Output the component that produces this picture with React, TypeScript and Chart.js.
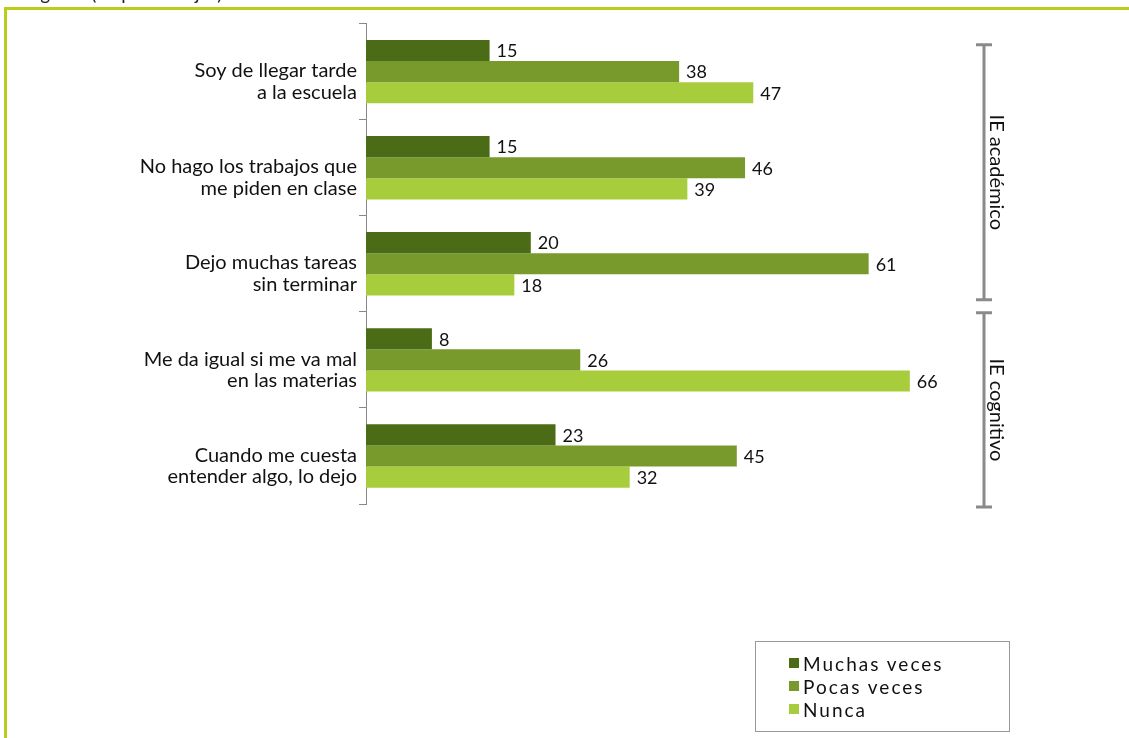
import React, { useEffect, useRef } from "react";
import { Chart, registerables } from "chart.js";

Chart.register(...registerables);

const categories: string[][] = [
  ["Soy de llegar tarde", "a la escuela"],
  ["No hago los trabajos que", "me piden en clase"],
  ["Dejo muchas tareas", "sin terminar"],
  ["Me da igual si me va mal", "en las materias"],
  ["Cuando me cuesta", "entender algo, lo dejo"],
];
const seriesNames = ["Muchas veces", "Pocas veces", "Nunca"];
const muchasVeces = [15, 15, 20, 8, 23];
const pocasVeces = [38, 46, 61, 26, 45];
const nunca = [47, 39, 18, 66, 32];
const seriesColors = ["#4c6b17", "#789a2c", "#a7cd3c"];
const groupLabels = ["IE académico", "IE cognitivo"];
const titleText = "Imagen 5 (en porcentajes)";

const FONT = "Lato, 'Open Sans', sans-serif";

const decorPlugin = {
  id: "decor",
  beforeDraw(chart: any) {
    const ctx = chart.ctx;
    ctx.save();
    ctx.fillStyle = "#b9cd1a";
    ctx.fillRect(4, 7, chart.width - 4, 3);
    ctx.fillRect(4, 7, 3, chart.height - 7);
    ctx.fillStyle = "#222";
    ctx.font = `19px ${FONT}`;
    ctx.textBaseline = "alphabetic";
    ctx.textAlign = "left";
    ctx.fillText(titleText, 10, 0);
    ctx.restore();
  },
  afterDatasetsDraw(chart: any) {
    const ctx = chart.ctx;
    ctx.save();
    ctx.font = `18px ${FONT}`;
    ctx.fillStyle = "#111";
    ctx.textBaseline = "middle";
    ctx.textAlign = "left";
    chart.data.datasets.forEach((ds: any, i: number) => {
      const meta = chart.getDatasetMeta(i);
      meta.data.forEach((el: any, j: number) => {
        ctx.fillText(String(ds.data[j]), el.x + 7, el.y + 1);
      });
    });
    const y = chart.scales.y;
    const band = (y.bottom - y.top) / categories.length;
    const ranges = [
      [y.top + 0.22 * band, y.top + 3 * band - 12],
      [y.top + 3 * band + 1, y.bottom + 3],
    ];
    const bx = 984;
    ctx.strokeStyle = "#8a8a8a";
    ctx.lineWidth = 3;
    ranges.forEach(([t, b], k) => {
      ctx.beginPath();
      ctx.moveTo(bx, t);
      ctx.lineTo(bx, b);
      ctx.moveTo(bx - 8, t);
      ctx.lineTo(bx + 8, t);
      ctx.moveTo(bx - 8, b);
      ctx.lineTo(bx + 8, b);
      ctx.stroke();
      ctx.save();
      ctx.translate(bx + 12, (t + b) / 2);
      ctx.rotate(Math.PI / 2);
      ctx.font = `20px ${FONT}`;
      ctx.fillStyle = "#111";
      ctx.textAlign = "center";
      ctx.textBaseline = "middle";
      ctx.fillText(groupLabels[k], 0, 0);
      ctx.restore();
    });
    ctx.restore();
  },
};

export default function App() {
  const ref = useRef<HTMLCanvasElement | null>(null);
  useEffect(() => {
    if (!ref.current) return;
    const data = [muchasVeces, pocasVeces, nunca];
    const chart = new Chart(ref.current, {
      type: "bar",
      data: {
        labels: categories,
        datasets: data.map((d, i) => ({
          label: seriesNames[i],
          data: d,
          backgroundColor: seriesColors[i],
          borderWidth: 0,
          categoryPercentage: 0.66,
          barPercentage: 1,
        })),
      },
      options: {
        indexAxis: "y",
        animation: false,
        responsive: false,
        devicePixelRatio: 1,
        layout: { padding: { left: 0, top: 23, right: 145, bottom: 234 } },
        plugins: {
          legend: { display: false },
          tooltip: { enabled: false },
          title: { display: false },
        },
        scales: {
          x: { display: false, min: 0, max: 75 },
          y: {
            afterFit: (s: any) => {
              s.width = 366;
            },
            border: { display: true, color: "#888", width: 1 },
            grid: {
              display: true,
              drawOnChartArea: false,
              drawTicks: true,
              tickLength: 7,
              color: "#888",
              offset: true,
            },
            ticks: {
              color: "#111",
              padding: 2,
              labelOffset: 10,
              font: { family: FONT, size: 20, lineHeight: 1.08 },
            },
          },
        },
      },
      plugins: [decorPlugin],
    } as any);
    return () => chart.destroy();
  }, []);

  return (
    <div style={{ position: "absolute", left: 0, top: 0, width: 1129, height: 738, background: "#fff" }}>
      <canvas ref={ref} width={1129} height={738} style={{ position: "absolute", left: 0, top: 0 }} />
      <div
        style={{
          position: "absolute",
          left: 755,
          top: 641,
          width: 255,
          height: 91,
          border: "1px solid #999",
          boxSizing: "border-box",
          fontFamily: FONT,
          fontSize: 19,
          color: "#111",
        }}
      >
        {seriesNames.map((n, i) => (
          <div
            key={n}
            style={{ position: "absolute", left: 33, top: 10 + i * 23, height: 22, display: "flex", alignItems: "center", whiteSpace: "nowrap", letterSpacing: 2 }}
          >
            <span style={{ display: "inline-block", width: 10, height: 10, background: seriesColors[i], marginRight: 4 }} />
            {n}
          </div>
        ))}
      </div>
    </div>
  );
}
